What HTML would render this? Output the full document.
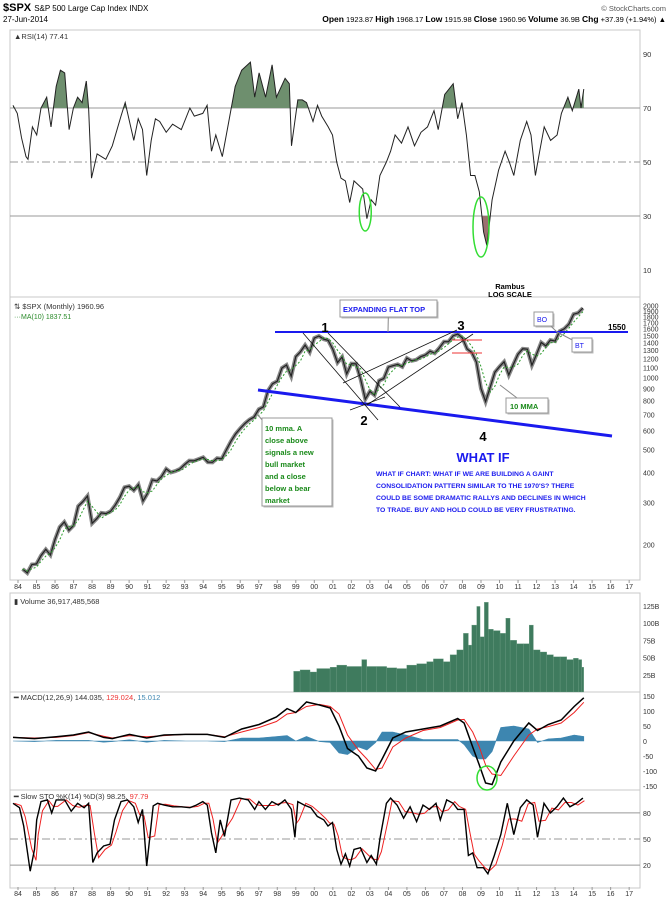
<!DOCTYPE html>
<html><head><meta charset="utf-8"><style>
html,body{margin:0;padding:0;background:#fff;}
svg{display:block;font-family:"Liberation Sans",sans-serif;}
</style></head><body>
<svg id="chart" width="671" height="900" viewBox="0 0 671 900" xmlns="http://www.w3.org/2000/svg">
<g id="hdr">
<text x="3" y="11" font-size="11" font-weight="bold">$SPX <tspan font-size="8" font-weight="normal">S&amp;P 500 Large Cap Index INDX</tspan></text>
<text x="3" y="22" font-size="8">27-Jun-2014</text>
<text x="666" y="11" font-size="7.5" fill="#555" text-anchor="end">© StockCharts.com</text>
<text x="666" y="22" font-size="7.5" text-anchor="end"><tspan font-weight="bold" font-size="8.5">Open</tspan> 1923.87 <tspan font-weight="bold" font-size="8.5">High</tspan> 1968.17 <tspan font-weight="bold" font-size="8.5">Low</tspan> 1915.98 <tspan font-weight="bold" font-size="8.5">Close</tspan> 1960.96 <tspan font-weight="bold" font-size="8.5">Volume</tspan> 36.9B <tspan font-weight="bold" font-size="8.5">Chg</tspan> +37.39 (+1.94%) ▲</text>
</g>
<g id="layer"></g>
</svg>
<script>
// ---------- DATA ----------
const xTickLabels = ["84","85","86","87","88","89","90","91","92","93","94","95","96","97","98","99","00","01","02","03","04","05","06","07","08","09","10","11","12","13","14","15","16","17"];
const priceTickLabels = [2000,1900,1800,1700,1600,1500,1400,1300,1200,1100,1000,900,800,700,600,500,400,300,200];
const rsiTickLabels = [90,70,50,30,10];
const volTickLabels = [125,100,75,50,25];
const macdTickLabels = [150,100,50,0,-50,-100,-150];
const stoTickLabels = [80,50,20];

const priceCloses = [159,153,166,167, 181,192,182,211, 238,250,231,242, 291,304,321,247, 258,273,271,277, 294,317,349,353, 339,358,306,330, 375,371,387,417, 403,408,417,435, 451,450,458,466, 445,444,462,459, 500,544,584,615, 645,670,687,740, 757,885,947,970, 1101,1133,1017,1229, 1286,1372,1282,1469, 1498,1454,1436,1320, 1160,1224,1040,1148, 1147,989,815,879, 848,975,995,1111, 1126,1140,1114,1211, 1180,1191,1228,1248, 1294,1270,1335,1418, 1420,1503,1526,1468, 1322,1280,1166,903, 797,919,1057,1115, 1169,1030,1141,1257, 1325,1320,1131,1257, 1408,1362,1440,1426, 1569,1606,1681,1848, 1872,1960];
const priceStartYear = 1984;

const rsiDates = [1983.73,1983.96,1984.19,1984.43,1984.54,1984.78,1985.01,1985.24,1985.55,1985.78,1986.06,1986.29,1986.52,1986.76,1986.99,1987.22,1987.46,1987.69,1987.81,1987.97,1988.27,1988.74,1989.09,1989.56,1989.79,1990.02,1990.25,1990.49,1990.72,1990.95,1991.19,1991.42,1991.65,1992.00,1992.35,1992.82,1993.28,1993.52,1993.98,1994.21,1994.45,1994.68,1995.03,1995.38,1995.73,1996.08,1996.55,1996.78,1997.02,1997.37,1997.72,1997.95,1998.42,1998.65,1998.77,1999.11,1999.35,1999.58,1999.93,2000.17,2000.40,2000.75,2000.98,2001.21,2001.44,2001.68,2001.91,2002.14,2002.61,2002.84,2003.07,2003.31,2003.54,2003.89,2004.12,2004.36,2004.71,2005.06,2005.41,2005.76,2006.11,2006.46,2006.69,2007.04,2007.27,2007.50,2007.74,2007.97,2008.21,2008.44,2008.67,2008.91,2009.14,2009.32,2009.60,2009.95,2010.30,2010.53,2010.77,2011.12,2011.47,2011.70,2011.94,2012.17,2012.41,2012.76,2013.11,2013.34,2013.69,2013.93,2014.28,2014.40,2014.55];
const rsiValues = [71,68,59,52,51,63,60,70,74,63,78,84,83,62,70,74,72,80,70,44,53,51,56,67,72,65,58,66,62,45,58,66,65,61,64,62,70,67,68,71,54,60,52,65,78,84,87,74,83,74,86,74,81,79,56,73,73,72,65,71,67,63,60,50,44,43,35,43,40,29,36,34,45,50,54,60,57,63,56,61,63,69,62,75,77,79,66,72,60,45,45,39,24,19,36,47,54,50,45,58,65,60,45,54,63,58,60,68,74,69,77,70,77];

const volDates = [1998.88,1999.23,1999.77,2000.13,2000.85,2001.21,2001.75,2002.56,2002.83,2003.37,2003.91,2004.45,2004.99,2005.53,2006.07,2006.43,2006.97,2007.33,2007.69,2008.05,2008.32,2008.50,2008.77,2008.95,2009.18,2009.40,2009.67,2010.03,2010.34,2010.57,2010.93,2011.29,2011.60,2011.83,2012.19,2012.55,2012.91,2013.27,2013.63,2013.99,2014.26,2014.44];
const volValues = [30,32,29,34,36,39,37,47,37,37,35,34,39,41,44,48,44,54,61,85,68,97,124,80,130,91,89,85,107,75,70,70,97,61,58,54,51,51,47,49,47,36];

const macdDates = [1983.73,1984.89,1986.06,1986.99,1987.81,1988.62,1989.09,1990.02,1990.95,1991.89,1993.05,1994.22,1995.15,1996.08,1997.02,1997.95,1998.53,1999.00,1999.58,2000.28,2000.86,2001.33,2001.79,2002.38,2002.84,2003.31,2003.66,2004.24,2004.94,2005.87,2006.80,2007.74,2008.09,2008.55,2008.91,2009.25,2009.60,2010.07,2010.77,2011.58,2012.05,2012.63,2013.33,2014.03,2014.55];
const macdValues = [12,8,14,20,30,12,8,22,10,20,22,22,12,40,55,80,108,95,130,120,110,50,-25,-50,-90,-100,-60,10,30,40,50,75,60,-20,-80,-140,-145,-70,0,60,35,55,70,115,144];
const signalValues = [12,10,12,18,28,16,10,18,14,18,22,22,14,30,45,65,90,95,115,122,115,90,20,-30,-60,-95,-90,-20,10,35,45,70,72,30,-20,-80,-110,-115,-50,20,40,48,60,95,129];

const stoDates = [1983.73,1984.08,1984.31,1984.66,1984.89,1985.01,1985.24,1985.59,1985.82,1986.06,1986.52,1986.87,1987.22,1987.57,1987.81,1988.04,1988.27,1988.62,1988.97,1989.21,1989.56,1989.91,1990.25,1990.49,1990.72,1990.95,1991.30,1991.54,1991.89,1992.35,1992.82,1993.28,1993.63,1993.98,1994.22,1994.45,1994.68,1994.92,1995.15,1995.50,1995.96,1996.43,1996.78,1997.01,1997.36,1997.71,1998.06,1998.41,1998.76,1998.95,1999.11,1999.46,1999.81,2000.16,2000.51,2000.74,2000.98,2001.21,2001.44,2001.68,2001.91,2002.14,2002.49,2002.84,2003.07,2003.35,2003.54,2003.89,2004.12,2004.47,2004.82,2005.17,2005.52,2005.87,2006.22,2006.57,2006.80,2007.15,2007.50,2007.74,2008.09,2008.32,2008.55,2008.79,2009.13,2009.37,2009.72,2010.07,2010.42,2010.77,2011.12,2011.47,2011.82,2012.05,2012.40,2012.75,2013.10,2013.45,2013.80,2014.15,2014.50];
const stoValues = [91,86,65,13,38,72,93,95,80,95,95,82,91,86,91,23,34,42,44,72,93,95,87,69,84,19,88,91,89,87,87,86,89,93,89,57,34,72,53,95,97,95,84,93,84,93,89,95,84,52,93,89,86,76,72,65,69,38,21,33,19,38,40,23,31,21,50,91,97,89,74,87,70,89,84,91,72,95,91,84,84,31,34,17,17,10,31,55,91,55,86,95,89,52,91,80,87,97,87,91,97];

// ---------- LAYOUT / SCALES ----------
const NS = "http://www.w3.org/2000/svg";
const L = 10, R = 640;
const xScale = yr => 18 + (yr - 1984) * 18.52;
const yPrice = p => 306 + 72 * Math.log2(2000 / p);
const yRsi = v => 108 + (70 - v) * 2.7;
const yVol = v => 692 - v * 0.69;
const yMacd = v => 741 - v * 0.3;
const ySto = v => 839 - (v - 50) * 0.87;
const layer = document.getElementById('layer');

function mk(tag, attrs, parent) {
  const e = document.createElementNS(NS, tag);
  for (const k in attrs) e.setAttribute(k, attrs[k]);
  (parent || layer).appendChild(e);
  return e;
}
function pathFrom(xs, ys) { return xs.map((x, i) => (i ? 'L' : 'M') + x.toFixed(1) + ',' + ys[i].toFixed(1)).join(''); }
function txt(x, y, s, attrs, parent) { const t = mk('text', Object.assign({x: x, y: y, 'font-size': 7.5}, attrs || {}), parent); t.textContent = s; return t; }

// panels
const panels = [["rsi-panel",30,297],["price-panel",297,580],["volume-panel",593,692],["macd-panel",692,790],["sto-panel",790,888]];
panels.forEach(p => {
  const r = mk('rect', {x: L, y: p[1], width: R - L, height: p[2] - p[1], fill: 'none', stroke: '#c8c8c8', 'stroke-width': 1});
  
  
});

// x-axis labels
[589, 896].forEach((yy, k) => {
  const g = mk('g', {});
  
  
  xTickLabels.forEach((lab, i) => {
    const x = xScale(1984 + i);
    mk('line', {x1: x, x2: x, y1: yy - 9, y2: yy - 6, stroke: '#999'}, g);
    const t = txt(x, yy, lab, {'text-anchor': 'middle', 'font-size': 7, fill: '#333'}, g);
    
    
  });
});

// ---------- RSI ----------
const rg = mk('g', {});


rsiTickLabels.forEach(v => {
  const t = txt(643, yRsi(v) + 3, String(v), {'font-size': 7.5, fill: '#333'}, rg);
  
  
});
[70, 30].forEach(v => mk('line', {x1: L, x2: R, y1: yRsi(v), y2: yRsi(v), stroke: '#999', 'stroke-width': 1}, rg));
mk('line', {x1: L, x2: R, y1: yRsi(50), y2: yRsi(50), stroke: '#999', 'stroke-dasharray': '8,3,2,3'}, rg);
const rx = rsiDates.map(xScale), ry = rsiValues.map(yRsi);
const defs = mk('defs', {});
const c1 = mk('clipPath', {id: 'above70'}, defs); mk('rect', {x: L, y: 30, width: R - L, height: yRsi(70) - 30}, c1);
const c2 = mk('clipPath', {id: 'below30'}, defs); mk('rect', {x: L, y: yRsi(30), width: R - L, height: 297 - yRsi(30)}, c2);
const fillUp = mk('path', {d: pathFrom(rx, ry) + `L${rx[rx.length-1]},${yRsi(70)}L${rx[0]},${yRsi(70)}Z`, fill: '#6e8f6e', 'clip-path': 'url(#above70)'}, rg);


const fillDn = mk('path', {d: pathFrom(rx, ry) + `L${rx[rx.length-1]},${yRsi(30)}L${rx[0]},${yRsi(30)}Z`, fill: '#9b7070', 'clip-path': 'url(#below30)'}, rg);


const rl = mk('path', {d: pathFrom(rx, ry), fill: 'none', stroke: '#222', 'stroke-width': 1}, rg);


txt(14, 39, '▲RSI(14) 77.41', {'font-size': 7.5, fill: '#333'}, rg);
const e1 = mk('ellipse', {cx: xScale(2002.75), cy: 212, rx: 6, ry: 19, fill: 'none', stroke: '#33dd33', 'stroke-width': 1.5}, rg);


const e2 = mk('ellipse', {cx: xScale(2009.0), cy: 227, rx: 8, ry: 30, fill: 'none', stroke: '#33dd33', 'stroke-width': 1.5}, rg);


txt(510, 289, 'Rambus', {'font-size': 7.5, 'font-weight': 'bold', 'text-anchor': 'middle'}, rg);
txt(510, 297, 'LOG SCALE', {'font-size': 7.5, 'font-weight': 'bold', 'text-anchor': 'middle'}, rg);

// ---------- PRICE ----------
const pg = mk('g', {});


priceTickLabels.forEach(v => {
  const t = txt(643, yPrice(v) + 2.5, String(v), {'font-size': 7, fill: '#333'}, pg);
  
  
});
const pDates = priceCloses.map((_, i) => priceStartYear + (i + 1) / 4);
const px = pDates.map(xScale), py = priceCloses.map(yPrice);
const ma = priceCloses.map((_, i) => { const s = priceCloses.slice(Math.max(0, i - 2), i + 1); return s.reduce((a, b) => a + b, 0) / s.length; });
const pw = mk('path', {d: pathFrom(px, py), fill: 'none', stroke: '#888', 'stroke-width': 4}, pg);


const pl = mk('path', {d: pathFrom(px, py), fill: 'none', stroke: '#222', 'stroke-width': 1.2}, pg);


const mal = mk('path', {d: pathFrom(px, ma.map(yPrice)), fill: 'none', stroke: '#2a9a2a', 'stroke-width': 1, 'stroke-dasharray': '2,2'}, pg);


txt(14, 309, '⇅ $SPX (Monthly) 1960.96', {'font-size': 7.5, fill: '#333'}, pg);
txt(14, 319, '···MA(10) 1837.51', {'font-size': 7, fill: '#2a8a2a'}, pg);

// annotations
const an = mk('g', {}, pg);


mk('line', {x1: 275, y1: 332, x2: 628, y2: 332, stroke: '#1a1aee', 'stroke-width': 2}, an);
mk('line', {x1: 258, y1: 390, x2: 612, y2: 436, stroke: '#1a1aee', 'stroke-width': 3}, an);
txt(608, 330, '1550', {'font-size': 8, 'font-weight': 'bold'}, an);
[[303,333,378,420],[328,333,400,407],[343,383,457,330],[367,405,473,334],[350,410,385,397]].forEach(l => mk('line', {x1: l[0], y1: l[1], x2: l[2], y2: l[3], stroke: '#111', 'stroke-width': 0.8}, an));
mk('line', {x1: 452, y1: 340, x2: 482, y2: 340, stroke: '#ee3333', 'stroke-width': 1}, an);
mk('line', {x1: 452, y1: 353, x2: 482, y2: 353, stroke: '#ee3333', 'stroke-width': 1}, an);
[['1',325,332],['2',364,425],['3',461,330],['4',483,441]].forEach(n => txt(n[1], n[2], n[0], {'font-size': 13, 'font-weight': 'bold', 'text-anchor': 'middle'}, an));
function callout(x, y, w, h, tx, ty, label, color, name) {
  const g = mk('g', {}, an);
  
  
  mk('rect', {x: x + 1.5, y: y + 1.5, width: w, height: h, fill: '#bbb'}, g);
  mk('line', {x1: x + w / 2, y1: y + h / 2, x2: tx, y2: ty, stroke: '#888'}, g);
  mk('rect', {x: x, y: y, width: w, height: h, fill: '#fff', stroke: '#999'}, g);
  return g;
}
const ef = callout(340, 300, 97, 17, 388, 332, '', '', 'expanding-flat-top-callout');
txt(343, 312, 'EXPANDING FLAT TOP', {'font-size': 7.5, 'font-weight': 'bold', fill: '#1a1aee'}, ef);
const bo = callout(534, 312, 19, 14, 557, 332, '', '', 'bo-callout');
txt(537, 322, 'BO', {'font-size': 7, fill: '#1a1aee'}, bo);
const bt = callout(572, 338, 20, 14, 557, 332, '', '', 'bt-callout');
txt(575, 348, 'BT', {'font-size': 7, fill: '#1a1aee'}, bt);
const mm = callout(506, 398, 42, 15, 500, 385, '', '', 'ten-mma-callout');
txt(510, 409, '10 MMA', {'font-size': 7.5, 'font-weight': 'bold', fill: '#1a8a1a'}, mm);
const gb = callout(262, 418, 70, 88, 258, 415, '', '', 'ten-mma-note');
['10 mma. A','close above','signals a new','bull market','and a close','below a bear','market'].forEach((s, i) => txt(265, 431 + i * 12, s, {'font-size': 7.5, 'font-weight': 'bold', fill: '#1a8a1a'}, gb));
const wi = txt(483, 462, 'WHAT IF', {'font-size': 13, 'font-weight': 'bold', fill: '#1a1aee', 'text-anchor': 'middle'}, an);


["WHAT IF CHART: WHAT IF WE ARE BUILDING A GAINT","CONSOLIDATION PATTERN SIMILAR TO THE 1970'S?  THERE","COULD BE SOME DRAMATIC RALLYS  AND DECLINES IN WHICH","TO TRADE. BUY AND HOLD COULD BE VERY FRUSTRATING."].forEach((s, i) => txt(376, 476 + i * 12, s, {'font-size': 6.8, 'font-weight': 'bold', fill: '#1a1aee'}, an));

// ---------- VOLUME ----------
const vg = mk('g', {});


volTickLabels.forEach(v => {
  const t = txt(643, yVol(v) + 3, v + 'B', {'font-size': 7, fill: '#333'}, vg);
  
  
});
volValues.forEach((v, i) => {
  const x0 = xScale(volDates[i]);
  const x1 = i < volValues.length - 1 ? xScale(volDates[i + 1]) : x0 + 2;
  const b = mk('rect', {x: x0, y: yVol(v), width: Math.max(1, x1 - x0), height: 692 - yVol(v), fill: '#3f7b5e', stroke: '#6f9f86', 'stroke-width': 0.3}, vg);
  
  
});
txt(14, 604, '▮ Volume 36,917,485,568', {'font-size': 7.5, fill: '#333'}, vg);

// ---------- MACD ----------
const mg = mk('g', {});


macdTickLabels.forEach(v => {
  const t = txt(643, yMacd(v) + 3, String(v), {'font-size': 7, fill: '#333'}, mg);
  
  
});
const mx = macdDates.map(xScale);
const hist = macdValues.map((v, i) => v - signalValues[i]);
const hp = mk('path', {d: pathFrom(mx, hist.map(yMacd)) + `L${mx[mx.length-1]},${yMacd(0)}L${mx[0]},${yMacd(0)}Z`, fill: '#3d86b0', stroke: '#3d86b0', 'stroke-width': 0.6}, mg);


const sl = mk('path', {d: pathFrom(mx, signalValues.map(yMacd)), fill: 'none', stroke: '#ee2222', 'stroke-width': 1}, mg);


const ml = mk('path', {d: pathFrom(mx, macdValues.map(yMacd)), fill: 'none', stroke: '#000', 'stroke-width': 1.5}, mg);


const e3 = mk('ellipse', {cx: 487, cy: 778, rx: 10, ry: 12, fill: 'none', stroke: '#33dd33', 'stroke-width': 1.5}, mg);


const mt = txt(14, 700, '', {'font-size': 7.5, fill: '#333'}, mg);
mt.innerHTML = '<tspan font-weight="bold">━</tspan> MACD(12,26,9) 144.035, <tspan fill="#e33">129.024</tspan>, <tspan fill="#3d86b0">15.012</tspan>';

// ---------- STO ----------
const sg = mk('g', {});


stoTickLabels.forEach(v => {
  const t = txt(643, ySto(v) + 3, String(v), {'font-size': 7, fill: '#333'}, sg);
  
  
});
[80, 20].forEach(v => mk('line', {x1: L, x2: R, y1: ySto(v), y2: ySto(v), stroke: '#999', 'stroke-width': 1}, sg));
mk('line', {x1: L, x2: R, y1: ySto(50), y2: ySto(50), stroke: '#999', 'stroke-dasharray': '8,3,2,3'}, sg);
const sx = stoDates.map(xScale);
const stoD = stoValues.map((_, i) => { const s = stoValues.slice(Math.max(0, i - 1), i + 1); return s.reduce((a, b) => a + b, 0) / s.length; });
const dl = mk('path', {d: pathFrom(sx.map(x => x + 1.5), stoD.map(ySto)), fill: 'none', stroke: '#ee2222', 'stroke-width': 1}, sg);


const kl = mk('path', {d: pathFrom(sx, stoValues.map(ySto)), fill: 'none', stroke: '#000', 'stroke-width': 1.4}, sg);


const st = txt(14, 799, '', {'font-size': 7.5, fill: '#333'}, sg);
st.innerHTML = '<tspan font-weight="bold">━</tspan> Slow STO %K(14) %D(3) 98.25, <tspan fill="#e33">97.79</tspan>';
</script>
</body></html>
